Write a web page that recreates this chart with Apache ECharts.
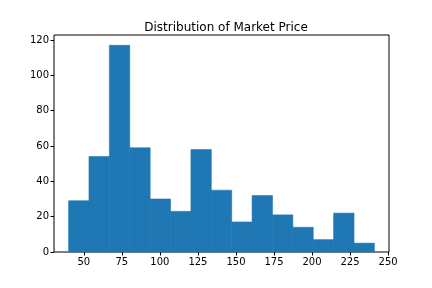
<!DOCTYPE html>
<html>
<head>
<meta charset="utf-8">
<script src="https://cdn.jsdelivr.net/npm/echarts@6/dist/echarts.min.js"></script>
<style>
  html, body { margin: 0; padding: 0; background: #fff; }
  #chart { width: 432px; height: 288px; }
</style>
</head>
<body>
<div id="chart"></div>
<script>
// histogram bins (edges) and counts
const binEdges = [40, 53.4, 66.8, 80.2, 93.6, 107, 120.4, 133.8, 147.2, 160.6, 174, 187.4, 200.8, 214.2, 227.6, 241];
const counts = [29, 54, 117, 59, 30, 23, 58, 35, 17, 32, 21, 14, 7, 22, 5];
const xTicks = [50, 75, 100, 125, 150, 175, 200, 225, 250];
const yTicks = [0, 20, 40, 60, 80, 100, 120];

let chart = echarts.init(document.getElementById('chart'), null, { renderer: 'canvas' });

let barData = counts.map(function (c, i) {
    return [binEdges[i], binEdges[i + 1], c];
});

const labelStyle = { color: '#000', fontSize: 10, fontFamily: 'DejaVu Sans' };

let option = {
    animation: false,
    title: {
        text: 'Distribution of Market Price',
        left: 221,
        textAlign: 'center',
        top: 17,
        textStyle: { fontSize: 12, fontWeight: 'normal', color: '#000', fontFamily: 'DejaVu Sans' }
    },
    grid: {
        left: 54, right: 43, top: 35, bottom: 36,
        show: true, borderColor: '#000', borderWidth: 1, backgroundColor: 'transparent'
    },
    xAxis: {
        type: 'value',
        min: 30.4,
        max: 250.6,
        splitLine: { show: false },
        axisLine: { show: false },
        axisTick: { show: true, inside: false, length: 3.5, lineStyle: { color: '#000' }, customValues: xTicks },
        axisLabel: Object.assign({ margin: 5, customValues: xTicks }, labelStyle)
    },
    yAxis: {
        type: 'value',
        min: 0,
        max: 122.85,
        splitLine: { show: false },
        axisLine: { show: false },
        axisTick: { show: true, inside: false, length: 3.5, lineStyle: { color: '#000' }, customValues: yTicks },
        axisLabel: Object.assign({ margin: 5, customValues: yTicks }, labelStyle)
    },
    series: [{
        type: 'custom',
        data: barData,
        encode: { x: [0, 1], y: 2 },
        renderItem: function (params, api) {
            let p0 = api.coord([api.value(0), 0]);
            let p1 = api.coord([api.value(1), api.value(2)]);
            return {
                type: 'rect',
                shape: { x: p0[0], y: p1[1], width: p1[0] - p0[0], height: p0[1] - p1[1] },
                style: { fill: '#1f77b4', stroke: '#1f77b4', lineWidth: 0.6 }
            };
        }
    }]
};
chart.setOption(option);
</script>
</body>
</html>
